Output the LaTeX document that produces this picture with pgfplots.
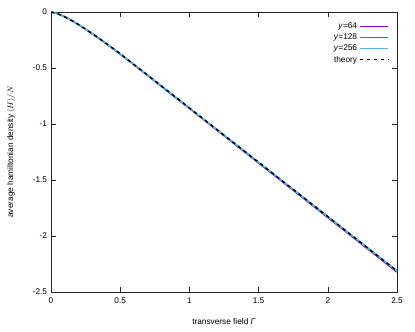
\documentclass[border=0pt]{standalone}
\usepackage{pgfplots}
\pgfplotsset{compat=1.18}
\usepackage{fontspec}
\setmainfont{Liberation Sans}
\definecolor{gpurple}{HTML}{9400D3}
\definecolor{ggreen}{HTML}{009E73}
\definecolor{gblue}{HTML}{56B4E9}
\begin{document}
\fontsize{8.3}{10}\selectfont
\begin{tikzpicture}
\begin{axis}[
  scale only axis,
  width=346bp, height=280bp,
  xmin=0, xmax=2.5, ymin=-2.5, ymax=0,
  xtick={0,0.5,1,1.5,2,2.5},
  ytick={-2.5,-2,-1.5,-1,-0.5,0},
  tick align=inside,
  major tick length=5bp,
  minor tick num=0,
  axis line style={black!85, line width=0.7bp},
  tick style={black!85, line width=0.6bp},
  /pgf/number format/assume math mode=true,
  /pgf/number format/fixed,
  ticklabel style={font=\fontsize{8.3}{10}\selectfont},
  xticklabel style={yshift=-3bp},
  yticklabel style={xshift=-1bp},
  xlabel={transverse field \textit{Γ}},
  ylabel={average hamiltonian density $\langle H\rangle/N$},
  label style={font=\fontsize{8.3}{10}\selectfont},
  xlabel style={yshift=-9bp},
  ylabel style={yshift=12bp},
  legend style={at={(0.985,0.975)}, anchor=north east, draw=none, fill=none,
    font=\fontsize{8.3}{10}\selectfont, row sep=0pt},
  legend cell align=right,
  legend plot pos=right,
  legend image post style={xscale=1.65},
]
\addplot[gpurple, line width=1.5bp] coordinates {
(0,0) (0.05,-0.016) (0.1,-0.044) (0.15,-0.077) (0.2,-0.114) (0.25,-0.155)
(0.3,-0.197) (0.35,-0.240) (0.4,-0.284) (0.45,-0.329) (0.5,-0.376)
(0.6,-0.473) (0.7,-0.569) (0.8,-0.667) (1.0,-0.861) (1.2,-1.056)
(1.4,-1.251) (1.6,-1.446) (1.8,-1.640) (2.0,-1.835) (2.2,-2.029)
(2.4,-2.224) (2.5,-2.322)};
\addlegendentry{\textit{y}=64}
\addplot[ggreen, line width=1.5bp] coordinates {
(0,0) (0.05,-0.016) (0.1,-0.043) (0.15,-0.076) (0.2,-0.113) (0.25,-0.153)
(0.3,-0.195) (0.35,-0.238) (0.4,-0.282) (0.45,-0.327) (0.5,-0.373)
(0.6,-0.470) (0.7,-0.566) (0.8,-0.663) (1.0,-0.857) (1.2,-1.051)
(1.4,-1.245) (1.6,-1.439) (1.8,-1.633) (2.0,-1.827) (2.2,-2.021)
(2.4,-2.215) (2.5,-2.312)};
\addlegendentry{\textit{y}=128}
\addplot[gblue, line width=1.5bp] coordinates {
(0,0) (0.05,-0.016) (0.1,-0.043) (0.15,-0.076) (0.2,-0.113) (0.25,-0.153)
(0.3,-0.195) (0.35,-0.238) (0.4,-0.282) (0.45,-0.327) (0.5,-0.373)
(0.6,-0.470) (0.7,-0.566) (0.8,-0.663) (1.0,-0.857) (1.2,-1.051)
(1.4,-1.245) (1.6,-1.439) (1.8,-1.633) (2.0,-1.827) (2.2,-2.021)
(2.4,-2.215) (2.5,-2.312)};
\addlegendentry{\textit{y}=256}
\addplot[black, line width=1.4bp, dash pattern=on 3.5bp off 3.5bp] coordinates {
(0,0) (0.05,-0.016) (0.1,-0.043) (0.15,-0.076) (0.2,-0.113) (0.25,-0.153)
(0.3,-0.195) (0.35,-0.238) (0.4,-0.282) (0.45,-0.327) (0.5,-0.373)
(0.6,-0.470) (0.7,-0.566) (0.8,-0.663) (1.0,-0.857) (1.2,-1.051)
(1.4,-1.245) (1.6,-1.439) (1.8,-1.633) (2.0,-1.827) (2.2,-2.021)
(2.4,-2.215) (2.5,-2.312)};
\addlegendentry{theory}
\end{axis}
\path[use as bounding box] (-51bp,-40bp) rectangle (364bp,292bp);
\end{tikzpicture}
\end{document}
